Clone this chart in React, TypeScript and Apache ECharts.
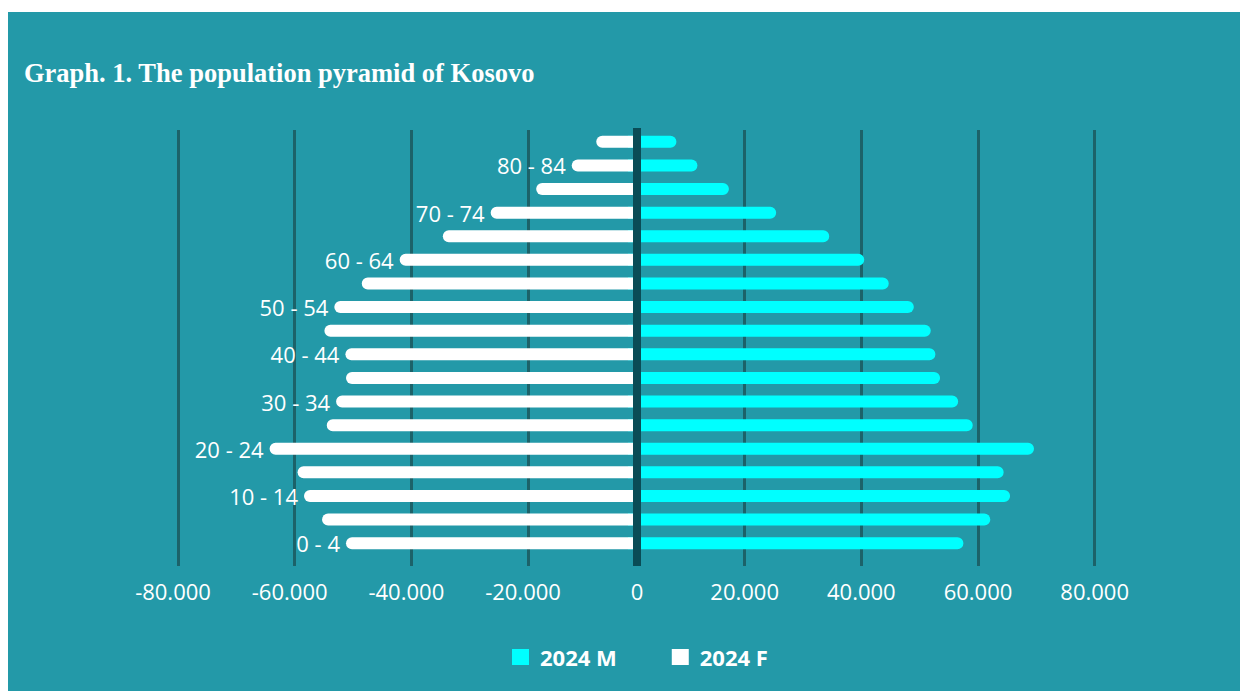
import React, { useEffect, useRef } from 'react';
import * as echarts from 'echarts';

const categories = [
  '0 - 4', '5 - 9', '10 - 14', '15 - 19', '20 - 24', '25 - 29', '30 - 34', '35 - 39', '40 - 44',
  '45 - 49', '50 - 54', '55 - 59', '60 - 64', '65 - 69', '70 - 74', '75 - 79', '80 - 84', '85+',
];
const male2024 = [57500, 62100, 65500, 64400, 69600, 59100, 56600, 53500, 52700, 51900, 49000, 44700, 40500, 34500, 25400, 17300, 11900, 8300];
const female2024 = [51200, 55300, 58400, 59500, 64300, 54500, 52900, 51200, 51300, 54900, 53200, 48500, 42000, 34600, 26400, 18600, 12500, 8300];
const leftTicks = [-80000, -60000, -40000, -20000];
const rightTicks = [0, 20000, 40000, 60000, 80000];
const seriesNames = ['2024 M', '2024 F'];
const titleText = 'Graph. 1. The population pyramid of Kosovo';

const BG = '#2399A8';
const GRID = '#1C6269';
const AXIS = '#0A4C56';
const CYAN = '#00FFFF';
const WHITE = '#FFFFFF';
const FONT = '"Open Sans", sans-serif';

const fmt = (v: number) => {
  const s = Math.abs(v).toString().replace(/\B(?=(\d{3})+(?!\d))/g, '.');
  return (v < 0 ? '-' : '') + s;
};

export default function App() {
  const ref = useRef<HTMLDivElement>(null);
  useEffect(() => {
    if (!ref.current) return;
    const chart = echarts.init(ref.current, null, { renderer: 'svg' });
    const labelText = { color: WHITE, fontSize: 22, fontFamily: FONT };
    chart.setOption({
      animation: false,
      backgroundColor: BG,
      title: {
        text: titleText,
        left: 11,
        top: 42,
        textStyle: { color: WHITE, fontFamily: '"Liberation Serif", serif', fontWeight: 'bold', fontSize: 26.5 },
      },
      legend: {
        data: seriesNames,
        left: 499,
        top: 629,
        icon: 'rect',
        itemWidth: 17,
        itemHeight: 16,
        itemGap: 55,
        textStyle: { color: WHITE, fontFamily: FONT, fontWeight: 'bold', fontSize: 22, padding: [0, 0, 0, 6] },
      },
      grid: [
        { left: 170, width: 455, top: 118, height: 425 },
        { left: 620, width: 466.67, top: 118, height: 425 },
      ],
      xAxis: [
        {
          type: 'value', gridIndex: 0, min: -80000, max: -2000, interval: 20000,
          axisLine: { show: false },
          axisTick: { show: true, length: 11, customValues: leftTicks, lineStyle: { color: GRID, width: 3 } },
          axisLabel: {
            ...labelText, margin: 25,
            customValues: leftTicks,
            formatter: (v: number) => '{n|' + fmt(v) + '}',
            rich: { n: { ...labelText, padding: [0, 10, 0, 0] } },
          },
          splitLine: { show: true, lineStyle: { color: GRID, width: 3 } },
        },
        {
          type: 'value', gridIndex: 1, min: 0, max: 80000, interval: 20000,
          axisLine: { show: false },
          axisTick: { show: true, length: 11, customValues: rightTicks.slice(1), lineStyle: { color: GRID, width: 3 } },
          axisLabel: {
            ...labelText, margin: 25,
            customValues: rightTicks,
            formatter: (v: number) => (v === 0 ? '{z|0}' : fmt(v)),
            rich: { z: { ...labelText, padding: [0, 0, 0, 18] } },
          },
          splitLine: { show: true, lineStyle: { color: GRID, width: 3 } },
        },
      ],
      yAxis: [
        { type: 'category', gridIndex: 0, data: categories, show: false },
        { type: 'category', gridIndex: 1, data: categories, show: false },
      ],
      series: [
        {
          name: seriesNames[0], type: 'bar', xAxisIndex: 1, yAxisIndex: 1,
          data: male2024, barWidth: 12, clip: true,
          itemStyle: { color: CYAN, borderRadius: [0, 6, 6, 0] },
        },
        {
          name: seriesNames[1], type: 'bar', xAxisIndex: 0, yAxisIndex: 0,
          data: female2024.map((v) => -v), barWidth: 12, clip: true,
          itemStyle: { color: WHITE, borderRadius: [6, 0, 0, 6] },
          label: {
            show: true, position: 'left', distance: 6, ...labelText,
            formatter: (p: any) => (p.dataIndex % 2 === 0 ? categories[p.dataIndex] : ''),
          },
        },
      ],
      graphic: [
        { type: 'rect', x: 625, y: 116, shape: { width: 8, height: 438 }, style: { fill: AXIS }, z: 100 },
      ],
    });
    return () => chart.dispose();
  }, []);
  return <div ref={ref} style={{ position: 'fixed', left: 8, top: 12, width: 1232, height: 679 }} />;
}
